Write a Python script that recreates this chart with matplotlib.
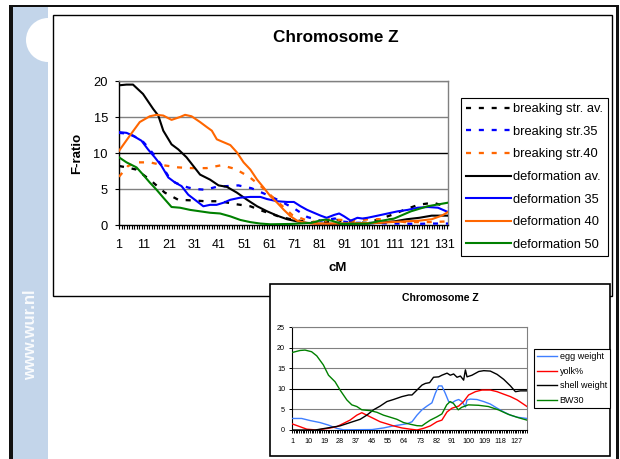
import matplotlib
matplotlib.use("Agg")
import matplotlib.pyplot as plt
from matplotlib.patches import Rectangle, Circle
from matplotlib.ticker import MultipleLocator, FixedLocator

plt.rcParams['font.family'] = ['Liberation Sans', 'DejaVu Sans']

W, H = 620, 459

# ---------------- main chart data (cM, F-ratio) ----------------
main_title = "Chromosome Z"
main_xticks = [1, 11, 21, 31, 41, 51, 61, 71, 81, 91, 101, 111, 121, 131]
main_yticks = [0, 5, 10, 15, 20]

brk_av_x = [1, 4, 7.9, 13.3, 19.3, 24.7, 31.4, 35.4, 41.4, 47.5, 53.5, 58.8, 64.8, 70.2, 74.9, 80, 85, 88, 92, 100, 105, 110, 115, 120.6, 126.5, 132.5]
brk_av_y = [8.2, 8.0, 7.7, 6.3, 4.5, 3.5, 3.4, 3.3, 3.3, 2.9, 2.6, 1.9, 1.2, 0.75, 0.5, 0.3, 0.4, 0.7, 0.4, 0.3, 0.8, 1.4, 2.1, 2.8, 3.1, 2.5]

brk35_x = [1, 4, 6.6, 10, 12.6, 15.3, 18, 20.7, 23.4, 26, 28.7, 31.4, 35.4, 40, 44, 48.7, 54, 60.1, 65, 71, 76.3, 81.6, 87.3, 90, 95, 100, 110, 115, 120, 125, 132.5]
brk35_y = [12.8, 12.7, 12.4, 11.8, 10.8, 9.6, 8.3, 6.8, 5.9, 5.5, 5.2, 5.0, 4.9, 5.3, 5.4, 5.5, 5.1, 4.2, 3.4, 2.3, 1.1, 0.6, 0.9, 0.5, 0.3, 0.3, 0.2, 0.2, 0.15, 0.2, 0.2]

brk40_x = [1, 4.6, 8.6, 13.3, 18.7, 24.7, 30, 36, 41.9, 47.4, 53, 58, 64.8, 70.2, 76.3, 81.6, 85, 95, 101, 111, 115, 125, 132.5]
brk40_y = [6.7, 8.2, 8.7, 8.7, 8.3, 8.0, 7.9, 7.9, 8.3, 7.8, 6.7, 5.3, 3.1, 1.4, 0.6, 0.3, 0.8, 0.6, 0.8, 0.8, 0.4, 0.4, 0.5]

def_av_x = [1, 4, 6.6, 10.6, 14.7, 16.7, 18.7, 22, 24.7, 28, 30.7, 33.4, 37.4, 40.8, 44.1, 48.1, 52.2, 56.2, 60.2, 64.2, 68.2, 72.2, 76, 80, 90, 100, 105, 111, 116, 121, 126, 132.5]
def_av_y = [19.4, 19.5, 19.5, 18.2, 16.1, 15.2, 13.1, 11.2, 10.5, 9.4, 8.2, 7.0, 6.3, 5.5, 5.3, 4.5, 3.5, 2.6, 1.9, 1.3, 0.8, 0.5, 0.3, 0.2, 0.15, 0.2, 0.3, 0.5, 0.8, 1.0, 1.3, 1.3]

def35_x = [1, 4, 6.6, 10, 12.6, 15.3, 18, 20.7, 23.4, 26, 28.7, 32.1, 34.7, 37.4, 40, 42.8, 45.5, 49.5, 53.5, 57.5, 60.2, 64.2, 68.2, 70.9, 73.6, 76.2, 78.9, 81.6, 84, 87, 89, 91, 93.6, 96.3, 98.3, 100.3, 104.4, 108.4, 112.4, 116.4, 120.4, 124.5, 128.5, 132.5]
def35_y = [12.9, 12.8, 12.4, 11.7, 10.5, 9.4, 8.2, 6.6, 5.9, 5.4, 4.2, 3.3, 2.6, 2.8, 2.8, 3.1, 3.5, 3.8, 3.9, 3.9, 3.6, 3.3, 3.2, 3.2, 2.6, 2.1, 1.7, 1.3, 1.0, 1.4, 1.6, 1.2, 0.6, 1.0, 0.9, 1.0, 1.3, 1.6, 1.9, 2.1, 2.4, 2.5, 2.4, 1.8]

def40_x = [1, 5.3, 9.3, 13.3, 16, 18.7, 22, 25.4, 27.4, 30, 33.4, 36.1, 38.1, 40.1, 42.1, 45.5, 48.1, 50.8, 53.5, 56.2, 58.8, 61.5, 64.2, 66.9, 69.6, 72.2, 74.9, 78, 85, 95, 105, 115, 121, 126, 130, 132.5]
def40_y = [10.3, 12.4, 14.3, 15.1, 15.3, 15.2, 14.6, 15.0, 15.3, 15.1, 14.3, 13.6, 13.1, 11.9, 11.6, 11.1, 10.1, 8.7, 7.7, 6.3, 5.2, 4.0, 3.1, 2.1, 1.2, 0.6, 0.35, 0.2, 0.2, 0.25, 0.3, 0.5, 0.6, 0.8, 1.3, 1.8]

def50_x = [1, 4, 8, 10.6, 13.3, 16, 18.7, 22, 25.4, 29.4, 33.4, 37.4, 41.4, 45.5, 49.5, 53.5, 57.5, 61.5, 70, 78, 81, 83.5, 86, 90, 100.5, 104.5, 111, 117.7, 124.3, 132.5]
def50_y = [9.4, 8.7, 8.0, 7.0, 5.9, 4.9, 3.8, 2.5, 2.4, 2.1, 1.9, 1.7, 1.6, 1.2, 0.7, 0.4, 0.2, 0.1, 0.15, 0.3, 0.6, 0.75, 0.6, 0.15, 0.2, 0.5, 0.9, 1.9, 2.6, 3.1]

main_series = [
    ("breaking str. av.", brk_av_x, brk_av_y, "#000000", "dot"),
    ("breaking str.35", brk35_x, brk35_y, "#0000ff", "dot"),
    ("breaking str.40", brk40_x, brk40_y, "#ff6600", "dot"),
    ("deformation av.", def_av_x, def_av_y, "#000000", "solid"),
    ("deformation 35", def35_x, def35_y, "#0000ff", "solid"),
    ("deformation 40", def40_x, def40_y, "#ff6600", "solid"),
    ("deformation 50", def50_x, def50_y, "#008000", "solid"),
]

# ---------------- small chart data ----------------
small_xticks = [1, 10, 19, 28, 37, 46, 55, 64, 73, 82, 91, 100, 109, 118, 127]
small_yticks = [0, 5, 10, 15, 20, 25]

egg_x = [1, 6.4, 11.1, 16.8, 21.4, 26.1, 29.9, 46, 52.4, 58, 65.5, 68.4, 71.2, 74, 76.8, 79.6, 81.5, 83.4, 85.2, 87.1, 89, 90.9, 92.7, 94.6, 96.5, 98.4, 99.3, 101.2, 104.9, 108.7, 112.4, 116.2, 119.9, 123.7, 127.5, 133]
egg_y = [2.8, 2.8, 2.3, 1.8, 1.2, 0.4, 0.05, 0.1, 0.5, 1.0, 1.5, 2.0, 3.6, 4.9, 5.8, 6.6, 8.9, 10.7, 10.7, 8.9, 6.9, 6.6, 7.1, 7.4, 6.9, 5.6, 7.3, 7.5, 7.4, 6.9, 6.3, 5.3, 4.4, 3.6, 3.1, 2.8]

yolk_x = [1, 5.5, 9.3, 14.9, 21.4, 26.1, 29.9, 33.6, 37.4, 40.2, 43, 46.8, 50.5, 54.3, 58, 62.7, 67.4, 71.2, 74.9, 78.7, 82.4, 85.2, 88.1, 90.9, 94.6, 97.4, 100.2, 104, 107.7, 112.4, 116.2, 119.9, 123.7, 127.5, 133]
yolk_y = [1.5, 0.8, 0.2, 0.0, 0.4, 0.8, 1.6, 2.4, 3.6, 4.2, 3.6, 2.8, 2.0, 1.5, 1.0, 0.5, 0.2, 0.0, 0.4, 1.0, 2.0, 2.4, 4.4, 5.3, 5.8, 6.9, 8.5, 9.3, 9.7, 9.7, 9.3, 8.7, 8.1, 7.3, 5.7]

shell_x = [1, 14, 16.8, 22.4, 28, 33.6, 39.3, 43, 46.8, 50.5, 54.3, 58, 62.7, 66.5, 68.4, 71.2, 74, 75.9, 78.3, 80.5, 83.4, 85.2, 88.1, 89.9, 91.8, 93.7, 95.6, 97.4, 98.4, 99.3, 102.1, 105.9, 108.7, 112.4, 116.2, 119.9, 123.7, 126.5, 129.3, 133]
shell_y = [0.0, 0.0, 0.2, 0.6, 1.0, 1.8, 2.6, 3.6, 4.9, 5.8, 6.9, 7.4, 8.1, 8.5, 8.5, 9.7, 10.9, 11.3, 11.5, 12.8, 12.9, 13.3, 13.8, 13.3, 13.6, 12.8, 13.1, 12.1, 14.6, 12.9, 13.3, 14.2, 14.4, 14.3, 13.5, 12.3, 10.7, 9.3, 9.5, 9.5]

bw30_x = [1, 5.5, 8.3, 12, 14.9, 18.6, 21.5, 25.2, 28, 31.8, 34.6, 37.4, 40.2, 44.9, 48.7, 52.4, 56.2, 59.9, 63.7, 67.4, 71.2, 74, 75.9, 78.7, 82.4, 85.2, 87.9, 89.8, 91.6, 94.4, 96.3, 98.2, 100, 105.7, 111.3, 116.9, 122.5, 128.1, 133]
bw30_y = [18.8, 19.3, 19.4, 19.0, 18.0, 15.8, 13.3, 11.7, 9.7, 7.3, 6.1, 5.7, 4.9, 4.7, 4.3, 3.6, 3.1, 2.6, 1.8, 1.4, 1.05, 1.0, 1.6, 2.4, 3.2, 3.9, 6.1, 6.9, 6.5, 4.9, 5.5, 5.8, 6.1, 6.0, 5.7, 4.9, 3.8, 3.0, 2.4]

small_series = [
    ("egg weight", egg_x, egg_y, "#3f7fff"),
    ("yolk%", yolk_x, yolk_y, "#ff0000"),
    ("shell weight", shell_x, shell_y, "#000000"),
    ("BW30", bw30_x, bw30_y, "#008000"),
]


def fig_rect(left, top, right, bottom):
    return [left / W, 1 - bottom / H, (right - left) / W, (bottom - top) / H]


fig = plt.figure(figsize=(W / 100, H / 100), dpi=100)

# ---------------- slide background ----------------
bg = fig.add_axes([0, 0, 1, 1], zorder=0)
bg.set_xlim(0, W)
bg.set_ylim(H, 0)
bg.axis('off')
bg.add_patch(Rectangle((13, 7), 35, H, facecolor='#c3d5ea', edgecolor='none'))
bg.add_patch(Circle((48, 40), 22, facecolor='white', edgecolor='none'))
bg.add_patch(Rectangle((9, 5), 3.5, H, facecolor='#111111', edgecolor='none'))
bg.add_patch(Rectangle((9, 4.5), 610, 2.5, facecolor='#111111', edgecolor='none'))
bg.add_patch(Rectangle((615.5, 4.5), 3, H, facecolor='#111111', edgecolor='none'))
bg.add_patch(Rectangle((53, 15), 559, 281, facecolor='white', edgecolor='black', lw=1.0))
bg.add_patch(Rectangle((270, 284), 340, 172, facecolor='white', edgecolor='black', lw=1.2))
bg.text(31, 335, "www.wur.nl", rotation=90, color='white', fontsize=12,
        fontweight='bold', ha='center', va='center', alpha=0.9)

# titles / labels on slide
bg.text(336, 37, main_title, fontsize=12.3, fontweight='bold', ha='center', va='center')
bg.text(77, 153, "F-ratio", fontsize=9.5, fontweight='bold', rotation=90, ha='center', va='center')
bg.text(338, 268, "cM", fontsize=9.5, fontweight='bold', ha='center', va='center')
bg.text(440, 298, main_title, fontsize=7.6, fontweight='bold', ha='center', va='center')

# ---------------- main chart ----------------
ax = fig.add_axes(fig_rect(119, 81, 448, 225), zorder=2)
ax.set_facecolor('white')
for name, xs, ys, col, style in main_series:
    if style == "dot":
        ax.plot(xs, ys, color=col, lw=1.65, linestyle=(0, (2.2, 3.4)), label=name, zorder=3)
    else:
        ax.plot(xs, ys, color=col, lw=1.5, linestyle='-', label=name, zorder=4)
ax.set_xlim(1, 132.5)
ax.set_ylim(0, 20)
ax.xaxis.set_major_locator(FixedLocator(main_xticks))
ax.xaxis.set_minor_locator(MultipleLocator(1))
ax.set_xticklabels([str(v) for v in main_xticks])
ax.set_yticks(main_yticks)
ax.tick_params(axis='x', which='both', direction='out', length=3, width=0.8, pad=7, labelsize=9)
ax.tick_params(axis='y', which='major', direction='out', length=3, width=0.8, pad=5, labelsize=9.3)
for v in main_yticks[1:]:
    ax.axhline(v, color='black' if v == 10 else '#808080', lw=1.0, zorder=1)
for s in ['top', 'right']:
    ax.spines[s].set_color('#808080')
    ax.spines[s].set_linewidth(1.0)
for s in ['left', 'bottom']:
    ax.spines[s].set_color('black')
    ax.spines[s].set_linewidth(1.0)

leg = ax.legend(loc='upper left', bbox_to_anchor=(461 / W, 1 - 98 / H),
                bbox_transform=fig.transFigure, fontsize=9.3, frameon=True,
                fancybox=False, shadow=False, framealpha=1, edgecolor='black',
                handlelength=3.5, handletextpad=0.15, labelspacing=0.82,
                borderpad=0.4, borderaxespad=0)
leg.get_frame().set_linewidth(0.8)

# ---------------- small chart ----------------
ax2 = fig.add_axes(fig_rect(292, 327, 527, 430), zorder=3)
ax2.set_facecolor('white')
for name, xs, ys, col in small_series:
    ax2.plot(xs, ys, color=col, lw=1.0, label=name, zorder=3)
ax2.set_xlim(1, 133)
ax2.set_ylim(0, 25)
ax2.xaxis.set_major_locator(FixedLocator(small_xticks))
ax2.xaxis.set_minor_locator(MultipleLocator(1))
ax2.set_xticklabels([str(v) for v in small_xticks])
ax2.set_yticks(small_yticks)
ax2.tick_params(axis='x', which='both', direction='out', length=2, width=0.7, pad=4, labelsize=5.2)
ax2.tick_params(axis='y', which='major', direction='out', length=2, width=0.7, pad=3, labelsize=5.2)
for v in small_yticks[1:]:
    ax2.axhline(v, color='black' if v == 10 else '#808080', lw=0.8, zorder=1)
for s in ['top', 'right']:
    ax2.spines[s].set_color('#808080')
    ax2.spines[s].set_linewidth(0.8)
for s in ['left', 'bottom']:
    ax2.spines[s].set_color('black')
    ax2.spines[s].set_linewidth(0.8)

leg2 = ax2.legend(loc='upper left', bbox_to_anchor=(534 / W, 1 - 349 / H),
                  bbox_transform=fig.transFigure, fontsize=6.5, frameon=True,
                  fancybox=False, shadow=False, framealpha=1, edgecolor='black',
                  handlelength=2.2, handletextpad=0.3, labelspacing=0.62,
                  borderpad=0.35, borderaxespad=0)
leg2.get_frame().set_linewidth(0.8)

fig.savefig("out.png", dpi=100)
